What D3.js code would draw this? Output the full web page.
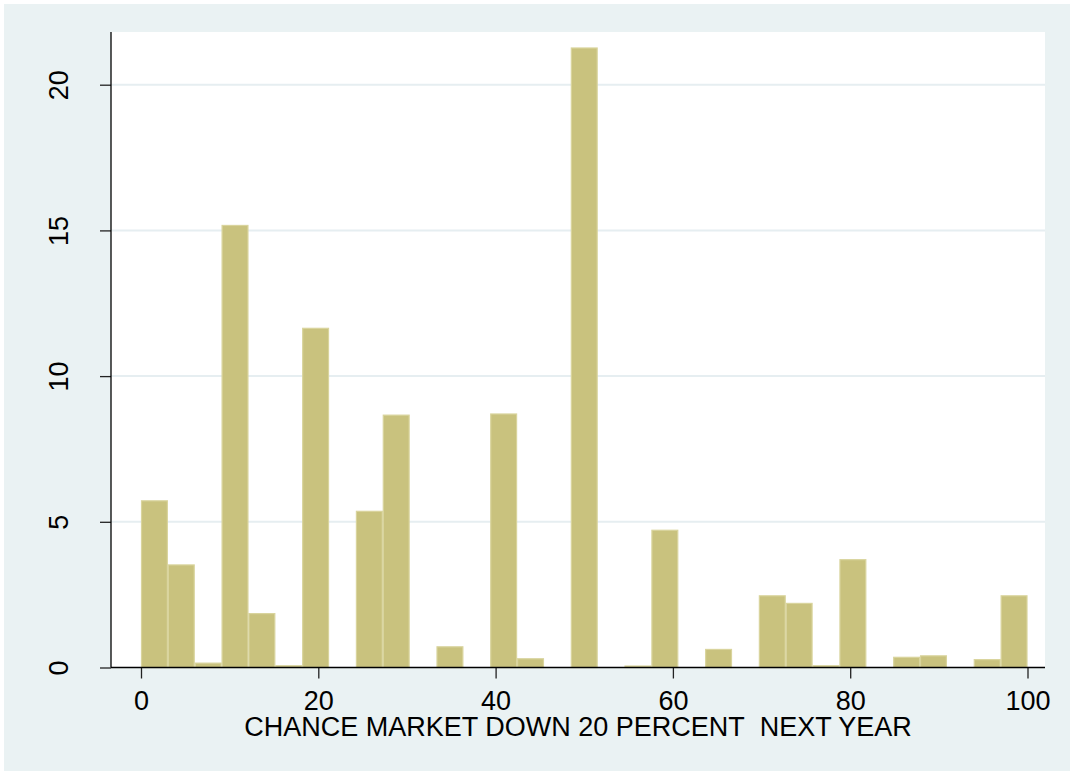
<!DOCTYPE html>
<html>
<head>
<meta charset="utf-8">
<script src="https://cdn.jsdelivr.net/npm/d3@7/dist/d3.min.js"></script>
<style>
  html, body { margin: 0; padding: 0; background: #ffffff; }
  svg { display: block; }
  text { font-family: "Liberation Sans", Arial, sans-serif; fill: #000; }
</style>
</head>
<body>
<svg id="chart" width="1070" height="771"></svg>
<script>
// Histogram of stated chance that the market falls 20% next year (percent of respondents per bin)
const binCount = 33;
const rangeMin = 0;
const rangeMax = 100;
const percents = [
  5.72, 3.52, 0.15, 15.17, 1.85, 0.06, 11.64, 0, 5.36, 8.66, 0,
  0.71, 0, 8.70, 0.30, 0, 21.26, 0, 0.05, 4.71, 0, 0.62,
  0, 2.46, 2.20, 0.06, 3.70, 0, 0.35, 0.40, 0, 0.27, 2.46
];
const xTicks = [0, 20, 40, 60, 80, 100];
const yTicks = [0, 5, 10, 15, 20];
const xTitle = "CHANCE MARKET DOWN 20 PERCENT\u00a0\u00a0NEXT YEAR";

const svg = d3.select("#chart");
const W = 1070, H = 771;

// plot region box
const plot = { left: 111, right: 1045, top: 32, bottom: 667.5 };

const binWidth = (rangeMax - rangeMin) / binCount;
const bins = percents.map((v, i) => ({
  x0: rangeMin + i * binWidth,
  x1: rangeMin + (i + 1) * binWidth,
  value: v
}));

const x = d3.scaleLinear().domain([0, 100]).range([141, 1027.5]);
const y = d3.scaleLinear().domain([0, 20]).range([plot.bottom, 84.7]);

// outer graph region
svg.append("rect").attr("x", 4).attr("y", 4).attr("width", W - 4).attr("height", H - 4)
  .attr("fill", "#eaf2f3");

// plot background
svg.append("rect")
  .attr("x", plot.left).attr("y", plot.top)
  .attr("width", plot.right - plot.left).attr("height", plot.bottom - plot.top)
  .attr("fill", "#ffffff");

// horizontal grid lines
svg.append("g").selectAll("line")
  .data(yTicks.filter(t => t > 0))
  .join("line")
  .attr("x1", plot.left).attr("x2", plot.right)
  .attr("y1", d => y(d)).attr("y2", d => y(d))
  .attr("stroke", "#e6eef1").attr("stroke-width", 2);

// bars
svg.append("g").selectAll("rect")
  .data(bins.filter(b => b.value > 0))
  .join("rect")
  .attr("x", d => x(d.x0) + 0.5)
  .attr("width", d => x(d.x1) - x(d.x0) - 1)
  .attr("y", d => y(d.value))
  .attr("height", d => y(0) - y(d.value))
  .attr("fill", "#c9c27e")
  .attr("stroke", "#d9d49d")
  .attr("stroke-width", 1.2);

// y axis
const yAxis = d3.axisLeft(y).tickValues(yTicks).tickSize(11).tickPadding(0).tickFormat(d3.format("d"));
const gy = svg.append("g").attr("transform", `translate(${plot.left},0)`).call(yAxis);
gy.select(".domain").remove();
gy.selectAll(".tick line").attr("stroke", "#222").attr("stroke-width", 1.3);
gy.selectAll(".tick text")
  .attr("x", 0).attr("dy", null)
  .attr("transform", "translate(-43,0) rotate(-90)")
  .attr("text-anchor", "middle")
  .attr("font-size", 27)
  .style("font-family", '"Liberation Sans", Arial, sans-serif')
  .attr("fill", "#000");
svg.append("line")
  .attr("x1", plot.left).attr("x2", plot.left)
  .attr("y1", plot.top).attr("y2", plot.bottom)
  .attr("stroke", "#000").attr("stroke-width", 1.3);

// x axis
const xAxis = d3.axisBottom(x).tickValues(xTicks).tickSize(11).tickPadding(0).tickFormat(d3.format("d"));
const gx = svg.append("g").attr("transform", `translate(0,${plot.bottom})`).call(xAxis);
gx.select(".domain").remove();
gx.selectAll(".tick line").attr("stroke", "#222").attr("stroke-width", 1.3);
gx.selectAll(".tick text")
  .attr("y", 42).attr("dy", null)
  .attr("font-size", 27)
  .style("font-family", '"Liberation Sans", Arial, sans-serif')
  .attr("fill", "#000");
svg.append("line")
  .attr("x1", plot.left).attr("x2", plot.right)
  .attr("y1", plot.bottom).attr("y2", plot.bottom)
  .attr("stroke", "#000").attr("stroke-width", 1.3);

// x axis title
svg.append("text")
  .attr("x", (plot.left + plot.right) / 2)
  .attr("y", 735.5)
  .attr("text-anchor", "middle")
  .attr("font-size", 27)
  .text(xTitle);
</script>
</body>
</html>
